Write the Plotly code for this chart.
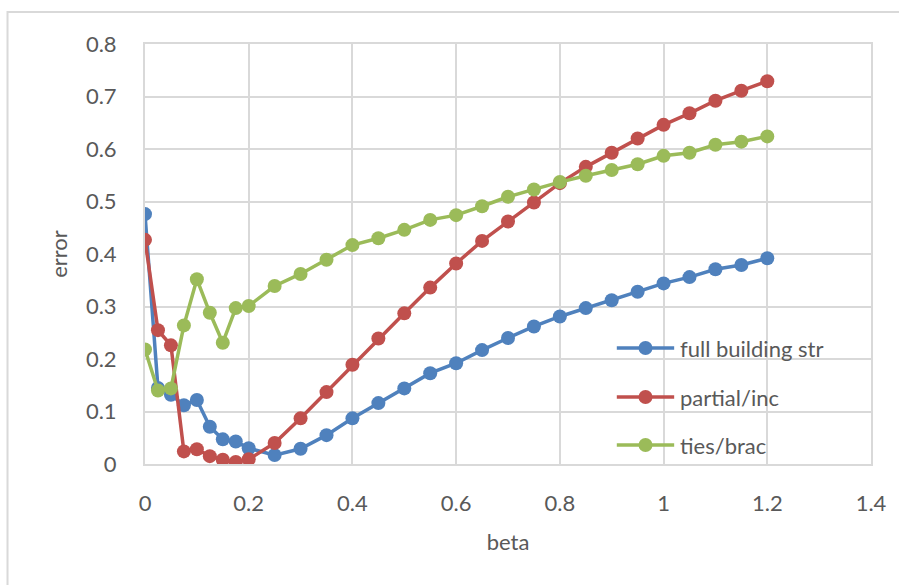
import plotly.graph_objects as go

# beta sweep: fine steps up to 0.2, then steps of 0.05
beta = [0, 0.025, 0.05, 0.075, 0.1, 0.125, 0.15, 0.175, 0.2,
        0.25, 0.3, 0.35, 0.4, 0.45, 0.5, 0.55, 0.6, 0.65, 0.7,
        0.75, 0.8, 0.85, 0.9, 0.95, 1.0, 1.05, 1.1, 1.15, 1.2]

full_building_str = [0.476, 0.145, 0.132, 0.112, 0.122, 0.071, 0.047, 0.043, 0.030,
                     0.017, 0.029, 0.055, 0.087, 0.116, 0.144, 0.173, 0.192, 0.217, 0.240,
                     0.262, 0.281, 0.297, 0.312, 0.328, 0.344, 0.356, 0.371, 0.379, 0.392]

partial_inc = [0.427, 0.255, 0.226, 0.024, 0.028, 0.015, 0.008, 0.004, 0.009,
               0.040, 0.087, 0.137, 0.189, 0.239, 0.287, 0.336, 0.382, 0.425, 0.462,
               0.498, 0.535, 0.566, 0.593, 0.620, 0.646, 0.668, 0.692, 0.711, 0.729]

ties_brac = [0.218, 0.140, 0.144, 0.264, 0.352, 0.288, 0.231, 0.297, 0.301,
             0.339, 0.362, 0.389, 0.417, 0.430, 0.446, 0.465, 0.474, 0.491, 0.509,
             0.523, 0.537, 0.549, 0.560, 0.571, 0.587, 0.593, 0.608, 0.614, 0.624]

series = [
    ("full building str", full_building_str, "#4F81BD"),
    ("partial/inc", partial_inc, "#C0504D"),
    ("ties/brac", ties_brac, "#9BBB59"),
]

FONT = "Lato"
TXT = "#595959"
GRID = "#d9d9d9"
FS = 22

# plot area geometry in pixels (used to place the hand-built legend)
W, H = 899, 585
ML, MR, MT, MB = 145, 20, 44, 121
PW, PH = W - ML - MR, H - MT - MB


def px_x(px):
    return (px - ML) / PW


def px_y(py):
    return (H - MB - py) / PH


fig = go.Figure()
for name, vals, col in series:
    fig.add_trace(go.Scatter(
        x=beta, y=vals, name=name, mode="lines+markers",
        line=dict(color=col, width=3.5),
        marker=dict(color=col, size=14),
        showlegend=False,
    ))

shapes = [
    # chart-area frame, extending past the right and bottom edges
    dict(type="rect", xref="paper", yref="paper",
         x0=px_x(6), x1=px_x(W + 10), y0=px_y(H + 10), y1=px_y(12),
         line=dict(color=GRID, width=2), fillcolor="rgba(0,0,0,0)", layer="below"),
]
annotations = []

# legend: line + dot + label per series
row_y = [348, 397, 445]
for (name, _, col), ry in zip(series, row_y):
    yy = px_y(ry)
    shapes.append(dict(type="line", xref="paper", yref="paper",
                       x0=px_x(622), x1=px_x(680), y0=yy, y1=yy,
                       line=dict(color=col, width=3.5)))
    shapes.append(dict(type="circle", xref="paper", yref="paper",
                       xsizemode="pixel", ysizemode="pixel",
                       xanchor=px_x(651), yanchor=yy,
                       x0=-7, x1=7, y0=-7, y1=7,
                       line=dict(color=col, width=0), fillcolor=col))
    annotations.append(dict(xref="paper", yref="paper", x=px_x(684), y=yy,
                            xanchor="left", yanchor="middle", showarrow=False,
                            text=name, font=dict(family=FONT, size=FS, color=TXT)))

fig.update_layout(
    width=W, height=H,
    margin=dict(l=ML, r=MR, t=MT, b=MB),
    paper_bgcolor="white", plot_bgcolor="white",
    font=dict(family=FONT, color=TXT, size=FS),
    showlegend=False,
    xaxis=dict(
        range=[0, 1.4], dtick=0.2, tickformat="~g",
        showgrid=True, gridcolor=GRID, gridwidth=2,
        zeroline=False, showline=True, linecolor=GRID, linewidth=2, mirror=True,
        ticks="outside", ticklen=19, tickcolor="rgba(0,0,0,0)",
        tickfont=dict(size=FS, color=TXT),
        title=dict(text="beta", font=dict(size=FS, color=TXT), standoff=19),
    ),
    yaxis=dict(
        range=[0, 0.8], dtick=0.1, tickformat="~g",
        showgrid=True, gridcolor=GRID, gridwidth=2,
        zeroline=False, showline=True, linecolor=GRID, linewidth=2, mirror=True,
        ticks="outside", ticklen=22, tickcolor="rgba(0,0,0,0)",
        tickfont=dict(size=FS, color=TXT),
        title=dict(text="error", font=dict(size=FS, color=TXT), standoff=12),
    ),
    shapes=shapes,
    annotations=annotations,
)

fig.write_html("out.html")
